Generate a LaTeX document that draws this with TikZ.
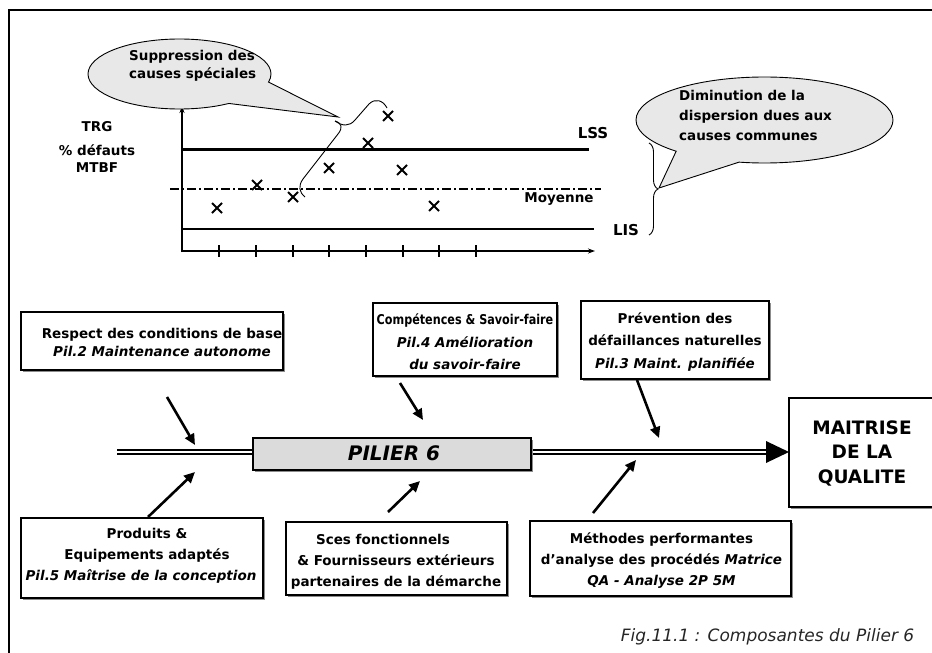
\documentclass[tikz,border=0pt]{standalone}
\usepackage{fontspec}
\setmainfont{DejaVu Sans}
\usetikzlibrary{arrows.meta,shapes.callouts,shadows,decorations.pathreplacing}
\begin{document}
\begin{tikzpicture}[x=1pt,y=-1pt,
  every node/.style={inner sep=0pt},
  base/.style={font=\fontsize{13.5}{21}\selectfont\bfseries},
  boxsh/.style={draw, line width=1.3pt, fill=white,
    drop shadow={shadow xshift=1.8pt,shadow yshift=-1.8pt,fill=black!45,opacity=1}},
  bubble/.style={ellipse callout, draw, line width=0.9pt, fill=black!9, callout pointer arc=32},
  axisln/.style={line width=2.4pt},
  limln/.style={line width=2.4pt},
  tickln/.style={line width=1.8pt},
  crs/.style={line width=1.9pt},
  meanln/.style={line width=1.3pt, dash pattern=on 9pt off 3pt on 2pt off 3pt},
  bracestyle/.style={line width=0.9pt},
  arr/.style={line width=2.6pt, -{Triangle[length=11pt,width=10pt]}},
  spine/.style={draw=black, line width=2pt, double=white, double distance=2pt},
]
\useasboundingbox (0,0) rectangle (932,653);
% frame
\draw[line width=1.3pt] (9,653) -- (9,10) -- (932,10);

% ---------- control chart ----------
\draw[meanln] (170,189) -- (601,189);
\draw[limln] (182,149.5) -- (589,149.5);
\draw[limln] (182,229) -- (594,229);
\draw[axisln, -{Stealth[length=7pt,width=5pt]}] (182,252) -- (182,106);
\draw[axisln, -{Stealth[length=7pt,width=5pt]}] (181,251) -- (595,251);
\foreach \x in {219,256,293,329,366,403,439,476}
  \draw[tickln] (\x,245) -- (\x,257);
\foreach \x/\y in {217/208, 257/185, 293/197, 329/168, 368/143, 388/116, 402/170, 434/206}
  \draw[crs] (\x-5,\y-5) -- (\x+5,\y+5) (\x-5,\y+5) -- (\x+5,\y-5);

\node[base, align=center] (ylab) at (97,147) {TRG\\[3pt]\% défauts\\[-4pt]MTBF};
\node[base, font=\fontsize{15}{18}\selectfont\bfseries] (lss) at (593,133) {LSS};
\node[base] (moy) at (559,199) {Moyenne};
\node[base, font=\fontsize{15}{18}\selectfont\bfseries] (lis) at (626,230) {LIS};

% callouts
\node[bubble, callout pointer arc=44, minimum width=183pt, minimum height=70pt,
  callout absolute pointer={(338,117)}] (c1) at (179.5,74) {};
\node[base, align=left, anchor=west, font=\fontsize{13.5}{18}\selectfont\bfseries] (c1t) at (129,66) {Suppression des\\causes spéciales};
\node[bubble, minimum width=257pt, minimum height=86pt,
  callout absolute pointer={(659,188)}] (c2) at (764.5,120) {};
\node[base, align=left, anchor=west, font=\fontsize{13.5}{20}\selectfont\bfseries] (c2t) at (679,115) {Diminution de la\\dispersion dues aux\\causes communes};

% braces
\draw[bracestyle] (305,197) .. controls (299,192) and (298,186) .. (303,179)
  -- (338,134) .. controls (343,128) and (342,123) .. (335,121);
\draw[bracestyle] (335,121) .. controls (342,126) and (349,127) .. (355,120)
  -- (369,104) .. controls (375,98) and (383,100) .. (387,108);
\draw[bracestyle, decorate, decoration={brace, amplitude=9pt}] (649,143) -- (649,235);

% ---------- fishbone ----------
\draw[spine] (117,452) -- (767,452);
\fill (766,441) -- (789,452) -- (766,463) -- cycle;

\node[boxsh, fill=black!14, minimum width=278pt, minimum height=32pt] (pil) at (392,454) {};
\node[base, font=\fontsize{20}{24}\selectfont\bfseries\itshape] (pilt) at (394,453) {PILIER 6};

\node[boxsh, minimum width=152pt, minimum height=109pt] (mq) at (865,452.5) {};
\node[base, align=center, font=\fontsize{18.5}{24.5}\selectfont\bfseries] (mqt) at (862,453) {MAITRISE\\DE LA\\QUALITE};

% top boxes
\node[boxsh, minimum width=262pt, minimum height=58pt] (b1) at (152,341) {};
\node[base, align=center, font=\fontsize{13.5}{18}\selectfont\bfseries] (b1t) at (162,342) {Respect des conditions de base\\\itshape Pil.2 Maintenance autonome};

\node[boxsh, minimum width=184pt, minimum height=73pt] (b2) at (465,339.5) {};
\node[base, align=center, font=\fontsize{13.5}{22.5}\selectfont\bfseries] (b2t) at (465,342) {\scalebox{0.83}[1]{Compétences \& Savoir-faire}\\\itshape Pil.4 Amélioration\\\itshape du savoir-faire};

\node[boxsh, minimum width=188pt, minimum height=78pt] (b3) at (675,340) {};
\node[base, align=center, font=\fontsize{13.5}{22.5}\selectfont\bfseries] (b3t) at (675,342) {Prévention des\\défaillances naturelles\\\itshape Pil.3 Maint. planifiée};

% bottom boxes
\node[boxsh, minimum width=242pt, minimum height=80pt] (b4) at (142,558) {};
\node[base, align=center] (b4t) at (147,556) {Produits \&\\Equipements adaptés\\\itshape Pil.5 Maîtrise de la conception\kern12pt};

\node[boxsh, minimum width=221pt, minimum height=73pt] (b5) at (396.5,558.5) {};
\node[base, align=center] (b5t) at (396,562) {Sces fonctionnels\kern26pt\\\& Fournisseurs extérieurs\\partenaires de la démarche};

\node[boxsh, minimum width=261pt, minimum height=75pt] (b6) at (660.5,558.5) {};
\node[base, align=center] (b6t) at (661.5,561) {Méthodes performantes\\d'analyse des procédés {\itshape Matrice}\\\itshape QA - Analyse 2P 5M};

% arrows
\coordinate (a1s) at (167,397); \coordinate (a1e) at (195,445);
\coordinate (a2s) at (400,383); \coordinate (a2e) at (423,420);
\coordinate (a3s) at (637,380); \coordinate (a3e) at (659,438);
\coordinate (a4s) at (148,517); \coordinate (a4e) at (195,472);
\coordinate (a5s) at (388,512); \coordinate (a5e) at (420,481);
\coordinate (a6s) at (593,513); \coordinate (a6e) at (636,460);
\draw[arr] (a1s) -- (a1e);
\draw[arr] (a2s) -- (a2e);
\draw[arr] (a3s) -- (a3e);
\draw[arr] (a4s) -- (a4e);
\draw[arr] (a5s) -- (a5e);
\draw[arr] (a6s) -- (a6e);

% caption
\node[font=\fontsize{17}{20}\selectfont\itshape, text=black!85] (cap) at (767.5,637) {Fig.11.1 : Composantes du Pilier 6};
\end{tikzpicture}
\end{document}
